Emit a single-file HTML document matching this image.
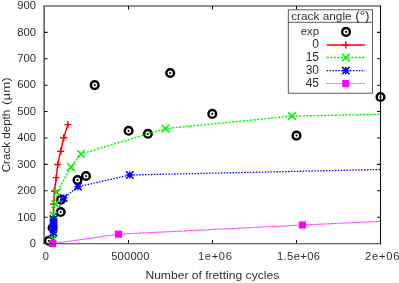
<!DOCTYPE html><html><head><meta charset="utf-8"><style>
html,body{margin:0;padding:0;background:#fff;overflow:hidden}
svg{display:block}
text{font-family:"Liberation Sans",sans-serif;font-size:11.2px;fill:#000}
</style></head><body>
<svg width="399" height="283" viewBox="0 0 399 283">
<rect width="399" height="283" fill="#fff"/>
<path d="M44.10 217.16h3.5M380.50 217.16h-3.5M44.10 190.76h3.5M380.50 190.76h-3.5M44.10 164.37h3.5M380.50 164.37h-3.5M44.10 137.97h3.5M380.50 137.97h-3.5M44.10 111.58h3.5M380.50 111.58h-3.5M44.10 85.18h3.5M380.50 85.18h-3.5M44.10 58.79h3.5M380.50 58.79h-3.5M44.10 32.39h3.5M380.50 32.39h-3.5M128.50 243.55v-3.5M128.50 6.00v3.5M212.50 243.55v-3.5M212.50 6.00v3.5M296.50 243.55v-3.5M296.50 6.00v3.5" stroke="#111" stroke-width="1.05" fill="none"/>
<circle cx="48.80" cy="240.80" r="3.83" fill="#fff" stroke="#000" stroke-width="2.45"/><circle cx="48.80" cy="240.80" r="1.1" fill="#000"/>
<circle cx="52.60" cy="227.70" r="3.83" fill="#fff" stroke="#000" stroke-width="2.45"/><circle cx="52.60" cy="227.70" r="1.1" fill="#000"/>
<circle cx="60.70" cy="212.05" r="3.83" fill="#fff" stroke="#000" stroke-width="2.45"/><circle cx="60.70" cy="212.05" r="1.1" fill="#000"/>
<circle cx="61.00" cy="199.80" r="3.83" fill="#fff" stroke="#000" stroke-width="2.45"/><circle cx="61.00" cy="199.80" r="1.1" fill="#000"/>
<circle cx="77.50" cy="180.00" r="3.83" fill="#fff" stroke="#000" stroke-width="2.45"/><circle cx="77.50" cy="180.00" r="1.1" fill="#000"/>
<circle cx="86.00" cy="176.00" r="3.83" fill="#fff" stroke="#000" stroke-width="2.45"/><circle cx="86.00" cy="176.00" r="1.1" fill="#000"/>
<circle cx="94.70" cy="85.10" r="3.83" fill="#fff" stroke="#000" stroke-width="2.45"/><circle cx="94.70" cy="85.10" r="1.1" fill="#000"/>
<circle cx="128.60" cy="130.80" r="3.83" fill="#fff" stroke="#000" stroke-width="2.45"/><circle cx="128.60" cy="130.80" r="1.1" fill="#000"/>
<circle cx="147.90" cy="133.80" r="3.83" fill="#fff" stroke="#000" stroke-width="2.45"/><circle cx="147.90" cy="133.80" r="1.1" fill="#000"/>
<circle cx="170.20" cy="73.00" r="3.83" fill="#fff" stroke="#000" stroke-width="2.45"/><circle cx="170.20" cy="73.00" r="1.1" fill="#000"/>
<circle cx="212.30" cy="113.90" r="3.83" fill="#fff" stroke="#000" stroke-width="2.45"/><circle cx="212.30" cy="113.90" r="1.1" fill="#000"/>
<circle cx="296.50" cy="135.60" r="3.83" fill="#fff" stroke="#000" stroke-width="2.45"/><circle cx="296.50" cy="135.60" r="1.1" fill="#000"/>
<circle cx="380.50" cy="97.00" r="3.83" fill="#fff" stroke="#000" stroke-width="2.45"/><circle cx="380.50" cy="97.00" r="1.1" fill="#000"/>
<path d="M52.60 243.50L52.80 237.20L52.90 230.30L53.20 217.10L53.70 203.90L54.50 190.90L56.30 177.60L57.70 164.50L60.70 151.20L63.70 137.75L67.90 124.60" stroke="#ff0000" stroke-width="1.45" fill="none" stroke-opacity="1"/>
<path d="M49.10 243.50h7.00M52.60 240.00v7.00" stroke="#ff0000" stroke-width="1.45" fill="none"/>
<path d="M49.30 237.20h7.00M52.80 233.70v7.00" stroke="#ff0000" stroke-width="1.45" fill="none"/>
<path d="M49.40 230.30h7.00M52.90 226.80v7.00" stroke="#ff0000" stroke-width="1.45" fill="none"/>
<path d="M49.70 217.10h7.00M53.20 213.60v7.00" stroke="#ff0000" stroke-width="1.45" fill="none"/>
<path d="M50.20 203.90h7.00M53.70 200.40v7.00" stroke="#ff0000" stroke-width="1.45" fill="none"/>
<path d="M51.00 190.90h7.00M54.50 187.40v7.00" stroke="#ff0000" stroke-width="1.45" fill="none"/>
<path d="M52.80 177.60h7.00M56.30 174.10v7.00" stroke="#ff0000" stroke-width="1.45" fill="none"/>
<path d="M54.20 164.50h7.00M57.70 161.00v7.00" stroke="#ff0000" stroke-width="1.45" fill="none"/>
<path d="M57.20 151.20h7.00M60.70 147.70v7.00" stroke="#ff0000" stroke-width="1.45" fill="none"/>
<path d="M60.20 137.75h7.00M63.70 134.25v7.00" stroke="#ff0000" stroke-width="1.45" fill="none"/>
<path d="M64.40 124.60h7.00M67.90 121.10v7.00" stroke="#ff0000" stroke-width="1.45" fill="none"/>
<path d="M52.80 243.50L53.20 238.30L53.30 232.90L53.30 227.80L53.40 223.60L53.40 219.30L53.50 215.40L55.40 204.20L56.80 192.40L70.90 167.10L81.00 154.00L165.40 128.60L292.00 116.10L380.00 114.30" stroke="#00f600" stroke-width="1.4" fill="none" stroke-dasharray="2.2 1.35" stroke-opacity="1"/>
<path d="M49.40 234.50l7.60 7.60M49.40 242.10l7.60 -7.60" stroke="#00f400" stroke-width="1.55" fill="none"/>
<path d="M49.50 229.10l7.60 7.60M49.50 236.70l7.60 -7.60" stroke="#00f400" stroke-width="1.55" fill="none"/>
<path d="M49.50 224.00l7.60 7.60M49.50 231.60l7.60 -7.60" stroke="#00f400" stroke-width="1.55" fill="none"/>
<path d="M49.60 219.80l7.60 7.60M49.60 227.40l7.60 -7.60" stroke="#00f400" stroke-width="1.55" fill="none"/>
<path d="M49.60 215.50l7.60 7.60M49.60 223.10l7.60 -7.60" stroke="#00f400" stroke-width="1.55" fill="none"/>
<path d="M49.70 211.60l7.60 7.60M49.70 219.20l7.60 -7.60" stroke="#00f400" stroke-width="1.55" fill="none"/>
<path d="M51.60 200.40l7.60 7.60M51.60 208.00l7.60 -7.60" stroke="#00f400" stroke-width="1.55" fill="none"/>
<path d="M53.00 188.60l7.60 7.60M53.00 196.20l7.60 -7.60" stroke="#00f400" stroke-width="1.55" fill="none"/>
<path d="M67.10 163.30l7.60 7.60M67.10 170.90l7.60 -7.60" stroke="#00f400" stroke-width="1.55" fill="none"/>
<path d="M77.20 150.20l7.60 7.60M77.20 157.80l7.60 -7.60" stroke="#00f400" stroke-width="1.55" fill="none"/>
<path d="M161.60 124.80l7.60 7.60M161.60 132.40l7.60 -7.60" stroke="#00f400" stroke-width="1.55" fill="none"/>
<path d="M288.20 112.30l7.60 7.60M288.20 119.90l7.60 -7.60" stroke="#00f400" stroke-width="1.55" fill="none"/>
<path d="M53.40 243.50L53.30 232.40L53.50 227.80L53.50 223.50L53.60 219.20L63.70 198.00L78.00 186.70L129.80 175.00L380.00 169.50" stroke="#0000ff" stroke-width="1.3" fill="none" stroke-dasharray="1.5 1.42" stroke-opacity="1"/>
<path d="M49.70 232.40h7.20M53.30 228.80v7.20" stroke="#0000ff" stroke-width="1.55" fill="none"/><path d="M49.60 228.70l7.40 7.40M49.60 236.10l7.40 -7.40" stroke="#0000ff" stroke-width="1.55" fill="none"/>
<path d="M49.90 227.80h7.20M53.50 224.20v7.20" stroke="#0000ff" stroke-width="1.55" fill="none"/><path d="M49.80 224.10l7.40 7.40M49.80 231.50l7.40 -7.40" stroke="#0000ff" stroke-width="1.55" fill="none"/>
<path d="M49.90 223.50h7.20M53.50 219.90v7.20" stroke="#0000ff" stroke-width="1.55" fill="none"/><path d="M49.80 219.80l7.40 7.40M49.80 227.20l7.40 -7.40" stroke="#0000ff" stroke-width="1.55" fill="none"/>
<path d="M50.00 219.20h7.20M53.60 215.60v7.20" stroke="#0000ff" stroke-width="1.55" fill="none"/><path d="M49.90 215.50l7.40 7.40M49.90 222.90l7.40 -7.40" stroke="#0000ff" stroke-width="1.55" fill="none"/>
<path d="M60.10 198.00h7.20M63.70 194.40v7.20" stroke="#0000ff" stroke-width="1.55" fill="none"/><path d="M60.00 194.30l7.40 7.40M60.00 201.70l7.40 -7.40" stroke="#0000ff" stroke-width="1.55" fill="none"/>
<path d="M74.40 186.70h7.20M78.00 183.10v7.20" stroke="#0000ff" stroke-width="1.55" fill="none"/><path d="M74.30 183.00l7.40 7.40M74.30 190.40l7.40 -7.40" stroke="#0000ff" stroke-width="1.55" fill="none"/>
<path d="M126.20 175.00h7.20M129.80 171.40v7.20" stroke="#0000ff" stroke-width="1.55" fill="none"/><path d="M126.10 171.30l7.40 7.40M126.10 178.70l7.40 -7.40" stroke="#0000ff" stroke-width="1.55" fill="none"/>
<path d="M52.50 243.60L118.45 234.20L302.40 225.00L380.00 221.40" stroke="#ff44ff" stroke-width="1.15" fill="none" stroke-dasharray="2.55 0.45" stroke-opacity="1"/>
<rect x="48.95" y="240.05" width="7.10" height="7.10" fill="#ff00ff"/>
<rect x="114.90" y="230.65" width="7.10" height="7.10" fill="#ff00ff"/>
<rect x="298.85" y="221.45" width="7.10" height="7.10" fill="#ff00ff"/>
<path d="M44.1 5.45V244.1M43.55 6.0H381.05" stroke="#222" stroke-width="1.15" fill="none"/>
<path d="M43.55 243.7H381.05" stroke="#3a3a3a" stroke-width="1.15" fill="none"/>
<path d="M380.5 5.45V244.1" stroke="#111" stroke-width="1.1" fill="none"/>
<rect x="288.30" y="9.80" width="84.20" height="83.40" fill="#fff" stroke="#4a4a4a" stroke-width="0.9"/>
<path d="M288.30 22.30H372.50" stroke="#4a4a4a" stroke-width="0.9"/>
<circle cx="346.00" cy="31.90" r="3.83" fill="#fff" stroke="#000" stroke-width="2.45"/><circle cx="346.00" cy="31.90" r="1.1" fill="#000"/>
<path d="M326.60 44.90L364.90 44.90" stroke="#ff0000" stroke-width="1.45" fill="none" stroke-opacity="1"/>
<path d="M342.30 44.90h7.00M345.80 41.40v7.00" stroke="#ff0000" stroke-width="1.45" fill="none"/>
<path d="M326.60 57.50L364.90 57.50" stroke="#00f600" stroke-width="1.4" fill="none" stroke-dasharray="2.2 1.35" stroke-opacity="1"/>
<path d="M342.00 53.70l7.60 7.60M342.00 61.30l7.60 -7.60" stroke="#00f400" stroke-width="1.55" fill="none"/>
<path d="M326.60 70.60L364.90 70.60" stroke="#0000ff" stroke-width="1.3" fill="none" stroke-dasharray="1.5 1.42" stroke-opacity="1"/>
<path d="M342.20 70.60h7.20M345.80 67.00v7.20" stroke="#0000ff" stroke-width="1.55" fill="none"/><path d="M342.10 66.90l7.40 7.40M342.10 74.30l7.40 -7.40" stroke="#0000ff" stroke-width="1.55" fill="none"/>
<path d="M326.60 83.50L364.90 83.50" stroke="#ff50ff" stroke-width="1.1" fill="none" stroke-dasharray="2.2 0.8" stroke-opacity="1"/>
<rect x="342.25" y="79.95" width="7.10" height="7.10" fill="#ff00ff"/>
<defs><filter id="g" x="0" y="0" width="399" height="283" filterUnits="userSpaceOnUse" color-interpolation-filters="sRGB"><feComponentTransfer><feFuncA type="linear" slope="0.84"/></feComponentTransfer></filter></defs>
<g filter="url(#g)">
<text x="36.1" y="247.05" text-anchor="end" textLength="6.27" lengthAdjust="spacingAndGlyphs" style="font-size:11.7px">0</text>
<text x="36.1" y="220.61" text-anchor="end" textLength="18.81" lengthAdjust="spacingAndGlyphs" style="font-size:11.7px">100</text>
<text x="36.1" y="194.17" text-anchor="end" textLength="18.81" lengthAdjust="spacingAndGlyphs" style="font-size:11.7px">200</text>
<text x="36.1" y="167.73" text-anchor="end" textLength="18.81" lengthAdjust="spacingAndGlyphs" style="font-size:11.7px">300</text>
<text x="36.1" y="141.29" text-anchor="end" textLength="18.81" lengthAdjust="spacingAndGlyphs" style="font-size:11.7px">400</text>
<text x="36.1" y="114.85" text-anchor="end" textLength="18.81" lengthAdjust="spacingAndGlyphs" style="font-size:11.7px">500</text>
<text x="36.1" y="88.41" text-anchor="end" textLength="18.81" lengthAdjust="spacingAndGlyphs" style="font-size:11.7px">600</text>
<text x="36.1" y="61.97" text-anchor="end" textLength="18.81" lengthAdjust="spacingAndGlyphs" style="font-size:11.7px">700</text>
<text x="36.1" y="35.53" text-anchor="end" textLength="18.81" lengthAdjust="spacingAndGlyphs" style="font-size:11.7px">800</text>
<text x="36.1" y="9.09" text-anchor="end" textLength="18.81" lengthAdjust="spacingAndGlyphs" style="font-size:11.7px">900</text>
<text x="45.90" y="260.1" text-anchor="middle">0</text>
<text x="130.35" y="260.1" text-anchor="middle" textLength="38.3" lengthAdjust="spacing">500000</text>
<text x="214.90" y="260.1" text-anchor="middle" textLength="34.0" lengthAdjust="spacing">1e+06</text>
<text x="298.50" y="260.1" text-anchor="middle" textLength="43.0" lengthAdjust="spacing">1.5e+06</text>
<text x="382.30" y="260.1" text-anchor="middle" textLength="34.5" lengthAdjust="spacing">2e+06</text>
<text x="212.3" y="278.7" text-anchor="middle" textLength="133.8" lengthAdjust="spacingAndGlyphs" style="font-size:11.8px">Number of fretting cycles</text>
<text transform="translate(10.3 172.3) rotate(-90)" textLength="62.6" lengthAdjust="spacingAndGlyphs" style="font-size:11.8px">Crack depth</text>
<text transform="translate(10.3 104.9) rotate(-90)" textLength="27.6" lengthAdjust="spacingAndGlyphs" style="font-size:11.8px">(µm)</text>
<text x="291.2" y="19.7" textLength="60.4" lengthAdjust="spacingAndGlyphs" style="font-size:11.4px">crack angle</text>
<text x="355.2" y="19.5" textLength="14.4" lengthAdjust="spacingAndGlyphs" style="font-size:12.6px">(°)</text>
<text x="319.0" y="34.7" text-anchor="end" style="font-size:11.3px">exp</text>
<text x="319.0" y="48.20" text-anchor="end" style="font-size:12px">0</text>
<text x="319.0" y="60.80" text-anchor="end" style="font-size:12px">15</text>
<text x="319.0" y="73.90" text-anchor="end" style="font-size:12px">30</text>
<text x="319.0" y="86.80" text-anchor="end" style="font-size:12px">45</text>
</g>
</svg></body></html>
